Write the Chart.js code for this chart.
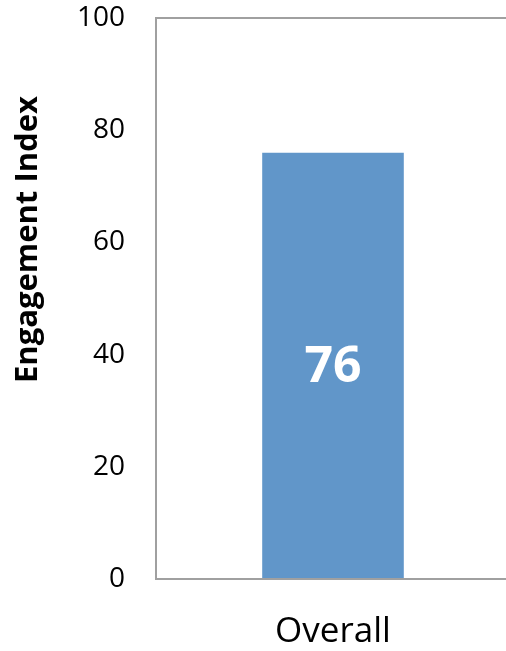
<!DOCTYPE html>
<html>
<head>
<meta charset="utf-8">
<script src="https://cdn.jsdelivr.net/npm/chart.js@4.4.1/dist/chart.umd.min.js"></script>
<style>
  html, body { margin: 0; padding: 0; background: #fff; overflow: hidden; }
  #wrap { width: 510px; height: 651px; }
</style>
</head>
<body>
<div id="wrap"><canvas id="chart" width="510" height="651"></canvas></div>
<script>
const categories = ["Overall"];
const engagement = [76];
const yTicks = [0, 20, 40, 60, 80, 100];

const barColor = "#6196c9";
const frameColor = "#a0a0a0";
const fontFamily = "'Open Sans', sans-serif";

// box around the plot area (right edge runs off the canvas)
const plotFrame = {
    id: "plotFrame",
    afterDraw(chart) {
        const { ctx, chartArea: a } = chart;
        ctx.save();
        ctx.strokeStyle = frameColor;
        ctx.lineWidth = 2;
        ctx.strokeRect(a.left, a.top, a.right - a.left + 4, a.bottom - a.top);
        ctx.restore();
    }
};

// value printed in the middle of each bar
const barValues = {
    id: "barValues",
    afterDatasetsDraw(chart) {
        const { ctx } = chart;
        const meta = chart.getDatasetMeta(0);
        ctx.save();
        ctx.fillStyle = "#ffffff";
        ctx.font = "bold 50px " + fontFamily;
        ctx.textAlign = "center";
        ctx.textBaseline = "middle";
        meta.data.forEach((bar, i) => {
            const { x, y, base } = bar.getProps(["x", "y", "base"], true);
            ctx.fillText(String(engagement[i]), x, (y + base) / 2 + 2);
        });
        ctx.restore();
    }
};

// y axis title, placed a bit above the plot's middle
const yTitle = {
    id: "yTitle",
    afterDraw(chart) {
        const { ctx, chartArea: a } = chart;
        ctx.save();
        ctx.translate(28, a.top + (a.bottom - a.top) * 0.395);
        ctx.rotate(-Math.PI / 2);
        ctx.fillStyle = "#000";
        ctx.font = "bold 31px " + fontFamily;
        ctx.textAlign = "center";
        ctx.textBaseline = "middle";
        ctx.fillText("Engagement Index", 0, 0);
        ctx.restore();
    }
};

new Chart(document.getElementById("chart"), {
    type: "bar",
    data: {
        labels: categories,
        datasets: [{
            data: engagement,
            backgroundColor: barColor,
            borderWidth: 0,
            barPercentage: 0.4,
            categoryPercentage: 1
        }]
    },
    options: {
        responsive: false,
        animation: false,
        events: [],
        layout: { padding: { top: 18, right: 0, left: 0, bottom: 0 } },
        plugins: { legend: { display: false }, tooltip: { enabled: false } },
        scales: {
            x: {
                grid: { display: false, drawTicks: false },
                border: { display: false },
                ticks: { color: "#000", font: { family: fontFamily, size: 35 }, padding: 32 },
                afterFit(scale) {
                    scale.height = 72;
                    scale.paddingLeft = 0;
                    scale.paddingRight = 0;
                }
            },
            y: {
                min: 0,
                max: 100,
                grid: { display: false, drawTicks: false },
                border: { display: false },
                afterBuildTicks(scale) { scale.ticks = yTicks.map(v => ({ value: v })); },
                ticks: { color: "#000", font: { family: fontFamily, size: 28 }, padding: 31 },
                afterFit(scale) {
                    scale.width = 156;
                    scale.paddingTop = 0;
                    scale.paddingBottom = 0;
                }
            }
        }
    },
    plugins: [plotFrame, barValues, yTitle]
});
</script>
</body>
</html>
